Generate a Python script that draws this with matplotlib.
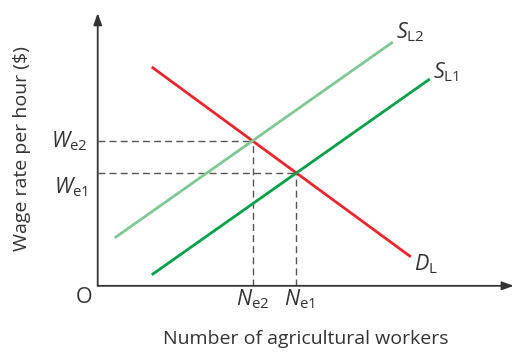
import numpy as np
import matplotlib
matplotlib.use("Agg")
import matplotlib.pyplot as plt

plt.rcParams['font.family'] = ['Open Sans', 'DejaVu Sans']
plt.rcParams['mathtext.fontset'] = 'custom'
plt.rcParams['mathtext.rm'] = 'Open Sans'
plt.rcParams['mathtext.it'] = 'Open Sans:italic'

# curve endpoints (x, y) in diagram units
demand = [(54, 219), (313, 29)]
supply1 = [(54, 11), (332, 207)]
supply2 = [(17, 48), (295, 244)]
curve_labels = ["$\\mathit{D}_{\\mathrm{L}}$", "$\\mathit{S}_{\\mathrm{L1}}$", "$\\mathit{S}_{\\mathrm{L2}}$"]
colors = ["#e8262d", "#00a04a", "#7fc795"]
x_label = "Number of agricultural workers"
y_label = "Wage rate per hour ($)"


def line_coef(p):
	(x0, y0), (x1, y1) = p
	m = (y1 - y0) / (x1 - x0)
	return m, y0 - m * x0


def intersect(a, b):
	m1, c1 = line_coef(a)
	m2, c2 = line_coef(b)
	x = (c2 - c1) / (m1 - m2)
	return x, m1 * x + c1


fig = plt.figure(figsize=(5.17, 3.52), dpi=100)
ax = fig.add_axes([0.189, 0.188, 0.805, 0.775])
ax.set_xlim(0, 416)
ax.set_ylim(0, 273)
for s in ax.spines.values():
	s.set_visible(False)
ax.set_xticks([])
ax.set_yticks([])

# axes with arrows
ax.annotate("", xy=(416, 0), xytext=(0, 0),
	arrowprops=dict(arrowstyle="-|>,head_length=0.7,head_width=0.25", color="#333333", lw=1.3, shrinkA=0, shrinkB=0),
	annotation_clip=False)
ax.annotate("", xy=(0, 273), xytext=(0, 0),
	arrowprops=dict(arrowstyle="-|>,head_length=0.7,head_width=0.25", color="#333333", lw=1.3, shrinkA=0, shrinkB=0),
	annotation_clip=False)

# equilibrium dashed guides
e1 = intersect(demand, supply1)
e2 = intersect(demand, supply2)
for ex, ey in [e1, e2]:
	ax.plot([0, ex], [ey, ey], ls=(0, (5, 3)), color="#555555", lw=1.0, zorder=1)
	ax.plot([ex, ex], [0, ey], ls=(0, (5, 3)), color="#555555", lw=1.0, zorder=1)

curves = [demand, supply1, supply2]
for c, col in zip(curves, colors):
	xs, ys = zip(*c)
	ax.plot(xs, ys, color=col, lw=2.0, solid_capstyle="butt", zorder=2)

fs = 15.5
tc = "#333333"
ax.text(demand[1][0] + 3, demand[1][1] - 7, curve_labels[0], fontsize=fs, ha="left", va="center", color=tc)
ax.text(supply1[1][0] + 3, supply1[1][1] + 7, curve_labels[1], fontsize=fs, ha="left", va="center", color=tc)
ax.text(supply2[1][0] + 3, supply2[1][1] + 10, curve_labels[2], fontsize=fs, ha="left", va="center", color=tc)

ax.text(-10, e2[1], "$\\mathit{W}_{\\mathrm{e2}}$", fontsize=fs, ha="right", va="center", color=tc)
ax.text(-10, e1[1] - 14, "$\\mathit{W}_{\\mathrm{e1}}$", fontsize=fs, ha="right", va="center", color=tc)
ax.text(e2[0], -13, "$\\mathit{N}_{\\mathrm{e2}}$", fontsize=fs, ha="center", va="center", color=tc)
ax.text(e1[0] + 3, -13, "$\\mathit{N}_{\\mathrm{e1}}$", fontsize=fs, ha="center", va="center", color=tc)
ax.text(-14, -12, "O", fontsize=fs, ha="center", va="center", color=tc)

ax.text(208, -53, x_label, fontsize=14, ha="center", va="center", color=tc)
ax.text(-76, 137, y_label, fontsize=14, ha="center", va="center", rotation=90, color=tc)

fig.savefig("out.png", dpi=100)
